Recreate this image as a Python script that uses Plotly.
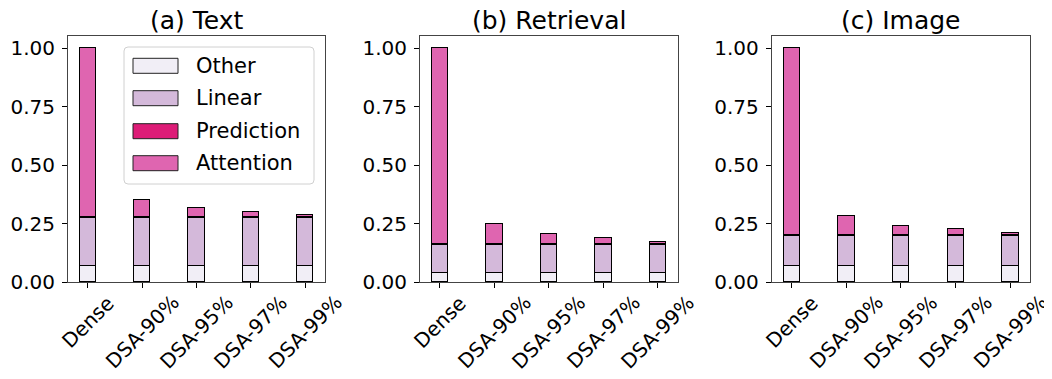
import plotly.graph_objects as go

# Page has the browser's default 8px body margin, so the figure is 16px smaller
# than the window and everything is placed in window pixels minus that offset.
WIN_W, WIN_H = 1052, 379
OFF = 8
W, H = WIN_W - 2 * OFF, WIN_H - 2 * OFF

categories = ["Dense", "DSA-90%", "DSA-95%", "DSA-97%", "DSA-99%"]
series_names = ["Other", "Linear", "Prediction", "Attention"]
series_colors = ["#f1eef6", "#d4b9da", "#dd1c77", "#df65b0"]
panel_titles = ["(a) Text", "(b) Retrieval", "(c) Image"]

text_other = [0.068, 0.068, 0.068, 0.068, 0.068]
text_linear = [0.207, 0.207, 0.207, 0.207, 0.207]
text_prediction = [0.005, 0.005, 0.005, 0.005, 0.005]
text_attention = [0.720, 0.072, 0.036, 0.022, 0.008]

retr_other = [0.038, 0.038, 0.038, 0.038, 0.038]
retr_linear = [0.121, 0.121, 0.121, 0.121, 0.121]
retr_prediction = [0.005, 0.005, 0.005, 0.005, 0.005]
retr_attention = [0.836, 0.085, 0.042, 0.024, 0.008]

img_other = [0.071, 0.071, 0.071, 0.071, 0.071]
img_linear = [0.127, 0.127, 0.127, 0.127, 0.127]
img_prediction = [0.005, 0.005, 0.005, 0.005, 0.005]
img_attention = [0.797, 0.081, 0.039, 0.023, 0.006]

y_ticks = [0.0, 0.25, 0.5, 0.75, 1.0]
y_ticktext = ["0.00", "0.25", "0.50", "0.75", "1.00"]

panels = [
    [text_other, text_linear, text_prediction, text_attention],
    [retr_other, retr_linear, retr_prediction, retr_attention],
    [img_other, img_linear, img_prediction, img_attention],
]

# layout in window pixels
x_px = [(68, 325), (420, 677.7), (771.7, 1030)]
y_top_px, y_bot_px = 36, 282.3

def px(x):
    return (x - OFF) / W

def py(y):
    return 1 - (y - OFF) / H

FONT = "DejaVu Sans"
fig = go.Figure()

for i, vals in enumerate(panels):
    ax = "" if i == 0 else str(i + 1)
    for name, color, v in zip(series_names, series_colors, vals):
        fig.add_trace(go.Bar(
            x=categories, y=v, name=name, width=0.3,
            marker=dict(color=color, line=dict(color="black", width=1)),
            xaxis="x" + ax, yaxis="y" + ax, showlegend=False,
            hovertemplate=name + ": %{y:.3f}<extra></extra>",
        ))
    fig.layout["xaxis" + ax] = dict(
        domain=[px(x_px[i][0]), px(x_px[i][1])], anchor="y" + ax,
        type="category", categoryorder="array", categoryarray=categories,
        range=[-0.365, 4.365], showticklabels=False, automargin=False,
        ticks="outside", ticklen=5, tickwidth=1, tickcolor="black",
        showline=True, linecolor="#444", linewidth=1, mirror=True,
        showgrid=False, zeroline=False, fixedrange=True,
    )
    fig.layout["yaxis" + ax] = dict(
        domain=[py(y_bot_px), py(y_top_px)], anchor="x" + ax,
        range=[0, 1.0526], tickvals=y_ticks, ticktext=y_ticktext,
        automargin=False,
        ticks="outside", ticklen=5, tickwidth=1, tickcolor="black",
        ticklabelstandoff=3,
        tickfont=dict(family=FONT, size=20, color="black"),
        showline=True, linecolor="#444", linewidth=1, mirror=True,
        showgrid=False, zeroline=False, fixedrange=True,
    )
    # title
    fig.add_annotation(
        text=panel_titles[i], xref="paper", yref="paper",
        x=(px(x_px[i][0]) + px(x_px[i][1])) / 2, y=py(37),
        xanchor="center", yanchor="bottom", showarrow=False,
        font=dict(family=FONT, size=25, color="black"),
    )
    # rotated category labels
    for c in categories:
        fig.add_annotation(
            text=c, xref="x" + ax, yref="paper", x=c, y=py(288),
            xanchor="center", yanchor="top", textangle=-45, showarrow=False,
            font=dict(family=FONT, size=20, color="black"),
        )

# manual legend (first panel)
bx0, bx1, by0, by1 = 124, 314, 47, 184
r = 4
rx, ry = r / W, r / H
X0, X1, Y0, Y1 = px(bx0), px(bx1), py(by0), py(by1)
path = (f"M {X0+rx},{Y0} L {X1-rx},{Y0} Q {X1},{Y0} {X1},{Y0-ry} "
        f"L {X1},{Y1+ry} Q {X1},{Y1} {X1-rx},{Y1} L {X0+rx},{Y1} "
        f"Q {X0},{Y1} {X0},{Y1+ry} L {X0},{Y0-ry} Q {X0},{Y0} {X0+rx},{Y0} Z")
fig.add_shape(type="path", path=path, xref="paper", yref="paper",
              line=dict(color="#d0d0d0", width=1), fillcolor="rgba(255,255,255,0.8)")
centers = [65.8, 98.2, 131.2, 163.2]
for name, color, cy in zip(series_names, series_colors, centers):
    fig.add_shape(type="rect", xref="paper", yref="paper",
                  x0=px(133), x1=px(178), y0=py(cy - 7.5), y1=py(cy + 7.5),
                  line=dict(color="#222", width=1), fillcolor=color)
    fig.add_annotation(text=name, xref="paper", yref="paper",
                       x=px(194), y=py(cy), xanchor="left", yanchor="middle",
                       showarrow=False,
                       font=dict(family=FONT, size=21, color="black"))

fig.update_layout(
    template="none",
    barmode="stack", width=W, height=H,
    margin=dict(l=0, r=0, t=0, b=0, pad=0),
    paper_bgcolor="white", plot_bgcolor="white",
    font=dict(family=FONT, color="black"),
    showlegend=False, bargap=0,
)

post = (
    "var gd=document.getElementById('{plot_id}');"
    "gd.querySelectorAll('svg').forEach(function(s){s.style.overflow='visible';});"
    "gd.querySelectorAll('.svg-container, .plot-container').forEach(function(d){d.style.overflow='visible';});"
)

fig.write_html("out.html", config={"displayModeBar": False}, post_script=post)
